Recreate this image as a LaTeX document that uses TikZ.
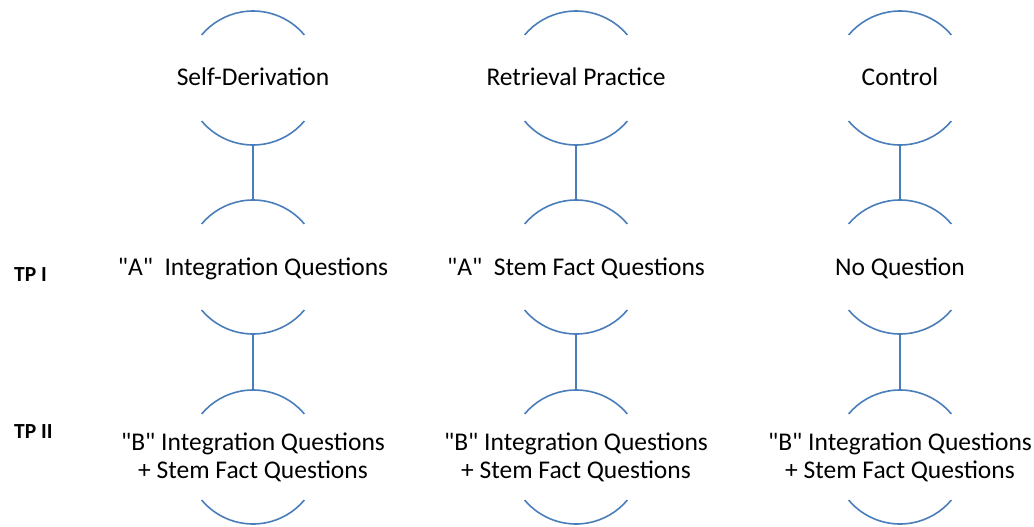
\documentclass[tikz,border=0pt]{standalone}
\usepackage{fontspec}
\setmainfont{Carlito}[Ligatures=TeXOff]
\begin{document}
\definecolor{arcblue}{RGB}{74,126,187}
\begin{tikzpicture}[x=1pt,y=-1pt,
  ring/.style={circle,minimum size=134pt,inner sep=0pt,outer sep=0pt,draw=none},
  label/.style={anchor=base,align=center,inner sep=0pt,font=\fontsize{25.5}{28}\selectfont},
  tplabel/.style={anchor=base west,inner sep=0pt,font=\fontsize{21.5}{24}\selectfont\bfseries},
  arcline/.style={draw=arcblue,line width=1.6pt},
  link/.style={draw=arcblue,line width=1.6pt}]
\useasboundingbox (0,0) rectangle (1034,527);

% rings: columns x = 253, 576, 900; rows y = 78, 267, 457
\foreach \c/\x in {1/253,2/576,3/900}{
  \node[ring] (r\c1) at (\x,78) {};
  \node[ring] (r\c2) at (\x,267) {};
  \node[ring] (r\c3) at (\x,457) {};
  \foreach \r in {1,2,3}{
    \draw[arcline] (r\c\r.40) arc[start angle=40,end angle=140,radius=67pt];
    \draw[arcline] (r\c\r.220) arc[start angle=220,end angle=320,radius=67pt];
  }
  \draw[link] (r\c1.south) -- (r\c2.north);
  \draw[link] (r\c2.south) -- (r\c3.north);
}

% texts inside the rings
\node[label] (t11) at (253,85) {Self-Derivation};
\node[label] (t21) at (576,85) {Retrieval Practice};
\node[label] (t31) at (900,85) {Control};
\node[label] (t12) at (253,275) {"A"\ \ Integration Questions};
\node[label] (t22) at (576,275) {"A"\ \ Stem Fact Questions};
\node[label] (t32) at (900,275) {No Question};
\node[label] (t13) at (253,478) {"B" Integration Questions\\+ Stem Fact Questions};
\node[label] (t23) at (576,478) {"B" Integration Questions\\+ Stem Fact Questions};
\node[label] (t33) at (900,478) {"B" Integration Questions\\+ Stem Fact Questions};

% time point labels
\node[tplabel] (tp1) at (14,281.5) {TP I};
\node[tplabel] (tp2) at (14,438) {TP II};
\end{tikzpicture}
\end{document}
